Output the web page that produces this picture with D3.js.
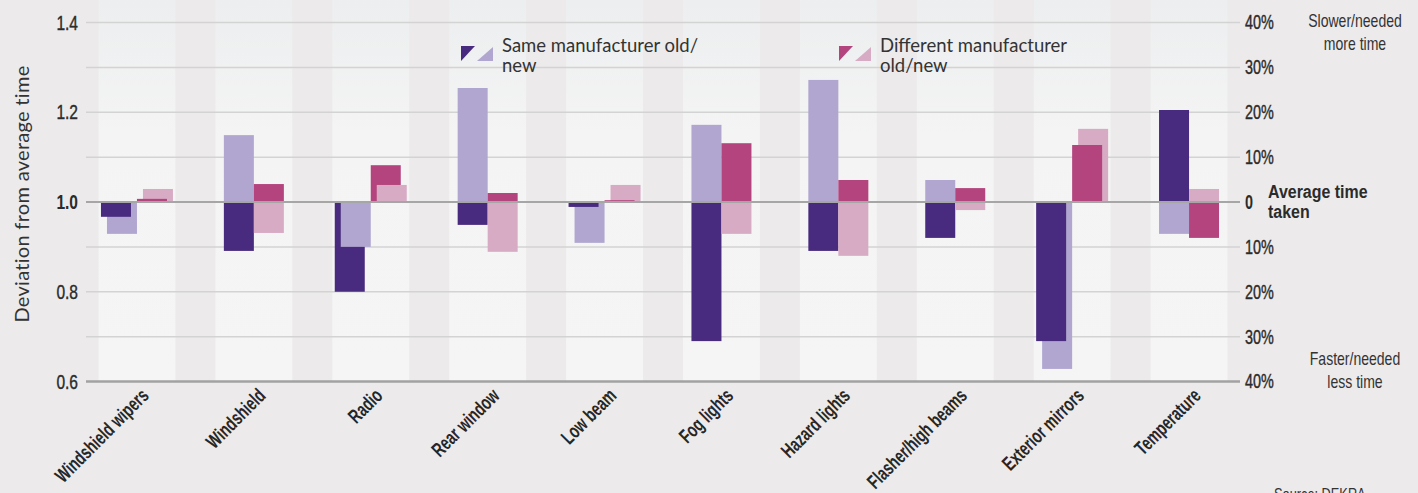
<!DOCTYPE html>
<html>
<head>
<meta charset="utf-8">
<script src="https://cdn.jsdelivr.net/npm/d3@7"></script>
<style>
  body { margin: 0; background: #eceaeb; }
  svg { display: block; }
</style>
</head>
<body>
<svg id="chart" width="1418" height="493"></svg>
<script>
// Controls tested, with time needed relative to the average (1.0 = average)
const categories = ["Windshield wipers", "Windshield", "Radio", "Rear window", "Low beam",
  "Fog lights", "Hazard lights", "Flasher/high beams", "Exterior mirrors", "Temperature"];
const sameOld = [0.967, 0.891, 0.800, 0.949, 0.989, 0.690, 0.891, 0.920, 0.690, 1.205];
const sameNew = [0.929, 1.149, 0.900, 1.254, 0.909, 1.172, 1.272, 1.049, 0.628, 0.929];
const diffOld = [1.007, 1.040, 1.082, 1.020, 1.004, 1.131, 1.049, 1.031, 1.127, 0.920];
const diffNew = [1.029, 0.931, 1.038, 0.889, 1.038, 0.929, 0.880, 0.982, 1.163, 1.029];

const leftTickValues = [0.6, 0.8, 1.0, 1.2, 1.4];
const gridValues = [0.6, 0.7, 0.8, 0.9, 1.0, 1.1, 1.2, 1.3, 1.4];
const rightTickLabels = ["40%", "30%", "20%", "10%", "0", "10%", "20%", "30%", "40%"];
const legendLabels = [["Same manufacturer old/", "new"], ["Different manufacturer", "old/new"]];

const colors = {
  sameOld: "#482b7e", sameNew: "#b0a6d0",
  diffOld: "#b3447d", diffNew: "#d8abc4"
};

const W = 1418, H = 493;
const plot = { left: 86, right: 1240, top: 22.5, bottom: 381.5 };
const narrow = "'Liberation Sans', Arimo, Arial, sans-serif";
const light = "Lato, 'Open Sans', sans-serif";

const svg = d3.select("#chart");

const x = d3.scaleBand()
  .domain(categories)
  .range([plot.left, plot.right])
  .paddingInner(0.342)
  .paddingOuter(0.107);

const y = d3.scaleLinear().domain([0.6, 1.4]).range([plot.bottom, plot.top]);

// condensed text: a regular face squeezed horizontally
function squeezed(parent, px, py, str, opts) {
  const o = Object.assign({ size: 18, sx: 0.8, anchor: "start", weight: "normal", fill: "#333" }, opts);
  return parent.append("text")
    .attr("transform", `translate(${px},${py}) scale(${o.sx},1)`)
    .attr("text-anchor", o.anchor)
    .attr("font-family", narrow)
    .attr("font-size", o.size)
    .attr("font-weight", o.weight)
    .attr("fill", o.fill)
    .text(str);
}

// background and light category columns
svg.append("rect").attr("width", W).attr("height", H).attr("fill", "#eceaeb");
const defs = svg.append("defs");
const grad = defs.append("linearGradient").attr("id", "colGrad")
  .attr("x1", 0).attr("x2", 0).attr("y1", 0).attr("y2", 1);
grad.append("stop").attr("offset", "0%").attr("stop-color", "#eceeef");
grad.append("stop").attr("offset", "35%").attr("stop-color", "#f4f4f4");
grad.append("stop").attr("offset", "100%").attr("stop-color", "#f5f5f5");

svg.append("g").selectAll("rect").data(categories).join("rect")
  .attr("x", d => x(d))
  .attr("y", 0)
  .attr("width", x.bandwidth())
  .attr("height", plot.bottom)
  .attr("fill", "url(#colGrad)");

// gridlines
svg.append("g").selectAll("line").data(gridValues.filter(v => v !== 1.0 && v !== 0.6)).join("line")
  .attr("x1", plot.left).attr("x2", plot.right)
  .attr("y1", d => y(d)).attr("y2", d => y(d))
  .attr("stroke", "#d3d3d3").attr("stroke-width", 1.5);

// bars
const bw = x.bandwidth();
const barW = bw * 0.39;
const stagger = bw * 0.078;
const sameSide = (a, b) => (a - 1) * (b - 1) > 0;

const bars = [];
categories.forEach((c, i) => {
  const sP = sameSide(sameOld[i], sameNew[i]) ? stagger : 0;
  const sD = sameSide(diffOld[i], diffNew[i]) ? stagger : 0;
  const groupW = 2 * barW + sP + sD;
  const x0 = x(c) + (bw - groupW) / 2;
  const x1 = x0 + barW + sP;
  const pairs = [
    [{ v: sameOld[i], x: x0, fill: colors.sameOld }, { v: sameNew[i], x: x0 + sP, fill: colors.sameNew }],
    [{ v: diffOld[i], x: x1, fill: colors.diffOld }, { v: diffNew[i], x: x1 + sD, fill: colors.diffNew }]
  ];
  pairs.forEach(p => {
    p.sort((a, b) => Math.abs(b.v - 1) - Math.abs(a.v - 1));
    p.forEach(b => bars.push(b));
  });
});

svg.append("g").selectAll("rect").data(bars).join("rect")
  .attr("x", d => d.x)
  .attr("width", barW)
  .attr("y", d => Math.min(y(d.v), y(1)))
  .attr("height", d => Math.abs(y(d.v) - y(1)))
  .attr("fill", d => d.fill);

// average line and bottom line
svg.append("line")
  .attr("x1", plot.left).attr("x2", plot.right)
  .attr("y1", y(1)).attr("y2", y(1))
  .attr("stroke", "#a6a6a6").attr("stroke-width", 2);
svg.append("line")
  .attr("x1", plot.left).attr("x2", plot.right)
  .attr("y1", y(0.6)).attr("y2", y(0.6))
  .attr("stroke", "#a2a2a2").attr("stroke-width", 2.5);

// left axis labels
const leftAxis = d3.axisLeft(y).tickValues(leftTickValues).tickSize(0).tickPadding(0)
  .tickFormat(d3.format(".1f"));
const gL = svg.append("g").attr("transform", `translate(78,0)`).call(leftAxis);
gL.select(".domain").remove();
gL.selectAll("text")
  .attr("transform", "scale(0.74,1)")
  .attr("font-family", narrow).attr("font-size", 21).attr("fill", "#2b2b2b")
  .attr("stroke", "#2b2b2b").attr("stroke-width", d => d === 1 ? 0 : 0.4)
  .attr("font-weight", d => d === 1 ? "bold" : "normal");

// right axis labels
const rightAxis = d3.axisRight(y).tickValues(gridValues).tickSize(0).tickPadding(0)
  .tickFormat((d, i) => rightTickLabels[i]);
const gR = svg.append("g").attr("transform", `translate(1245,0)`).call(rightAxis);
gR.select(".domain").remove();
gR.selectAll("text")
  .attr("transform", "scale(0.72,1)")
  .attr("font-family", narrow).attr("font-size", 20).attr("fill", "#2b2b2b")
  .attr("stroke", "#2b2b2b").attr("stroke-width", d => d === 1 ? 0 : 0.4)
  .attr("font-weight", d => d === 1 ? "bold" : "normal");

// right-side notes
const notes = svg.append("g");
const noteOpts = { size: 18, sx: 0.78, anchor: "middle", fill: "#333" };
squeezed(notes, 1355, 27, "Slower/needed", noteOpts);
squeezed(notes, 1355, 50, "more time", noteOpts);
squeezed(notes, 1355, 365, "Faster/needed", noteOpts);
squeezed(notes, 1355, 388, "less time", noteOpts);
squeezed(notes, 1268, 198, "Average time", { size: 19, sx: 0.84, weight: "bold", fill: "#2b2b2b" });
squeezed(notes, 1268, 218, "taken", { size: 19, sx: 0.84, weight: "bold", fill: "#2b2b2b" });
squeezed(notes, 1274, 500, "Source: DEKRA", { size: 16, sx: 0.8, fill: "#333" });

// y-axis title
svg.append("text")
  .attr("transform", `translate(29,194) rotate(-90)`)
  .attr("text-anchor", "middle")
  .attr("font-family", light).attr("font-size", 20).attr("letter-spacing", 0.3).attr("fill", "#333")
  .text("Deviation from average time");

// category labels
svg.append("g").selectAll("text").data(categories).join("text")
  .attr("transform", d => `translate(${x(d) + bw / 2 + 13},397) rotate(-45) scale(0.7,1)`)
  .attr("text-anchor", "end")
  .attr("font-family", narrow).attr("font-size", 20).attr("font-weight", "bold").attr("fill", "#262626")
  .text(d => d);

// legend
const legendItems = [
  { x: 461, dark: colors.sameOld, light: colors.sameNew, lines: legendLabels[0] },
  { x: 839, dark: colors.diffOld, light: colors.diffNew, lines: legendLabels[1] }
];
const lg = svg.append("g").selectAll("g").data(legendItems).join("g")
  .attr("transform", d => `translate(${d.x},46)`);
lg.append("path").attr("d", "M0,0 L14,0 L0,15 Z").attr("fill", d => d.dark);
lg.append("path").attr("d", "M32,1 L32,15 L16,15 Z").attr("fill", d => d.light);
lg.each(function (d) {
  const t = d3.select(this).append("text")
    .attr("font-family", light).attr("font-size", 18.5).attr("fill", "#333");
  d.lines.forEach((line, k) => {
    t.append("tspan").attr("x", 41).attr("y", 6 + k * 19.5).text(line);
  });
});
</script>
</body>
</html>
